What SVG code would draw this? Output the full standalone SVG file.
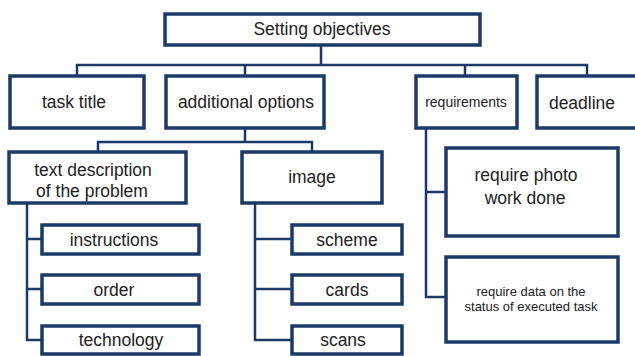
<svg xmlns="http://www.w3.org/2000/svg" width="635" height="356" viewBox="0 0 635 356">
<style>
.box{fill:#ffffff;stroke:#1b3a68;stroke-width:3.5}
.ln{fill:none;stroke:#1b3a68;stroke-width:2.5}
text{font-family:"Liberation Sans",Arial,sans-serif;fill:#222222;text-anchor:middle}
.m{font-size:17.5px}
.s{font-size:14px}
.xs{font-size:13px}
</style>
<rect width="635" height="356" fill="#ffffff"/>
<g id="connectors">
<path class="ln" d="M321,45V65M77,76V65H587V76M245,65V76M465,65V76"/>
<path class="ln" d="M245,128V142M98,152V142H312V152"/>
<path class="ln" d="M27,203V340H42M27,239H42M27,289H42"/>
<path class="ln" d="M255,203V340H292M255,239H292M255,289H292"/>
<path class="ln" d="M426,128V297H446M426,192H446"/>
</g>
<g id="n-top"><rect class="box" x="165" y="14" width="315" height="31"/><text class="m" x="322" y="35">Setting objectives</text></g>
<g id="n-title"><rect class="box" x="10" y="76" width="134" height="52"/><text class="m" x="74" y="108">task title</text></g>
<g id="n-options"><rect class="box" x="166" y="76" width="158" height="52"/><text class="m" x="246" y="108">additional options</text></g>
<g id="n-req"><rect class="box" x="416" y="76" width="101" height="52"/><text class="s" x="466" y="107">requirements</text></g>
<g id="n-deadline"><rect class="box" x="537" y="76" width="110" height="52"/><text class="m" x="582" y="109">deadline</text></g>
<g id="n-textdesc"><rect class="box" x="9" y="152" width="177" height="51"/><text class="m" x="93" y="176">text description</text><text class="m" x="92" y="197">of the problem</text></g>
<g id="n-image"><rect class="box" x="242" y="152" width="140" height="51"/><text class="m" x="312" y="183">image</text></g>
<g id="n-instructions"><rect class="box" x="42" y="225" width="157" height="29"/><text class="m" x="114" y="246">instructions</text></g>
<g id="n-order"><rect class="box" x="42" y="275" width="157" height="29"/><text class="m" x="114" y="296">order</text></g>
<g id="n-technology"><rect class="box" x="42" y="326" width="157" height="28"/><text class="m" x="121" y="346">technology</text></g>
<g id="n-scheme"><rect class="box" x="292" y="225" width="110" height="29"/><text class="m" x="347" y="246">scheme</text></g>
<g id="n-cards"><rect class="box" x="292" y="275" width="110" height="29"/><text class="m" x="347" y="296">cards</text></g>
<g id="n-scans"><rect class="box" x="292" y="326" width="110" height="28"/><text class="m" x="343" y="346">scans</text></g>
<g id="n-photo"><rect class="box" x="446" y="148" width="172" height="88"/><text class="m" x="526" y="181">require photo</text><text class="m" x="525" y="204">work done</text></g>
<g id="n-data"><rect class="box" x="446" y="257" width="172" height="85"/><text class="xs" x="531" y="296">require data on the</text><text class="xs" x="531" y="311">status of executed task</text></g>
</svg>
